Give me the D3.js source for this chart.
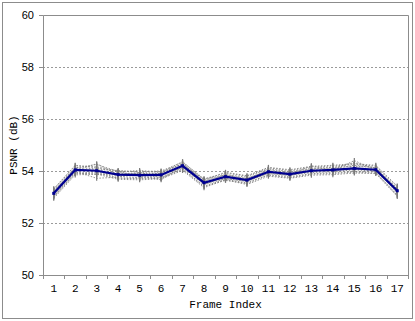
<!DOCTYPE html>
<html>
<head>
<meta charset="utf-8">
<script src="https://cdn.jsdelivr.net/npm/d3@7"></script>
<style>
  body { margin: 0; background: #fff; }
  svg { display: block; }
</style>
</head>
<body>
<div class="vizHolder"></div>
<script>
var width = 415,
    height = 321;

var margin = {top: 15, right: 7, bottom: 46, left: 43};

// frame index categories
var frames = [1,2,3,4,5,6,7,8,9,10,11,12,13,14,15,16,17];

// y tick values
var yTicks = [50, 52, 54, 56, 58, 60];

// mean PSNR (blue line)
var meanPsnr = [53.14,54.04,54.01,53.86,53.84,53.85,54.20,53.55,53.78,53.65,53.97,53.88,54.01,54.04,54.10,54.05,53.24];

// individual runs (grey dotted lines)
var run1  = [52.99,53.89,53.92,53.72,53.70,53.72,54.06,53.40,53.64,53.52,53.84,53.74,53.88,53.90,53.96,53.92,53.08];
var run2  = [53.30,54.20,54.16,54.00,53.98,54.00,54.34,53.70,53.92,53.80,54.12,54.02,54.15,54.19,54.25,54.19,53.40];
var run3  = [53.08,53.98,53.72,53.76,53.95,53.74,54.12,53.48,53.70,53.60,53.90,53.84,53.94,53.98,54.04,54.00,53.18];
var run4  = [53.22,54.12,54.25,53.98,53.80,53.92,54.28,53.62,53.86,53.70,54.05,53.94,54.08,54.12,54.32,54.10,53.30];
var run5  = [52.95,53.85,53.88,53.68,53.66,53.70,54.02,53.36,53.66,53.48,53.80,53.72,53.84,53.86,53.92,53.90,53.02];
var run6  = [53.32,54.22,54.12,53.96,54.02,53.94,54.36,53.66,53.95,53.82,54.14,54.05,54.18,54.22,54.28,54.22,53.42];
var run7  = [53.12,54.02,54.28,53.85,53.82,53.66,54.18,53.50,53.80,53.65,53.95,53.86,54.20,54.02,54.40,54.04,53.22];
var run8  = [53.04,53.94,53.86,53.90,53.88,53.88,54.22,53.58,53.74,53.72,53.98,53.92,53.96,54.10,54.06,54.08,53.14];
var run9  = [53.18,54.10,54.00,53.80,53.74,53.82,54.14,53.52,53.72,53.60,53.92,53.82,54.02,54.00,54.14,53.98,53.28];
var run10 = [53.26,54.14,54.08,54.02,53.94,53.98,54.26,53.68,53.86,53.76,54.08,53.98,54.10,54.14,54.18,54.14,53.34];
var run11 = [53.02,53.92,53.96,53.74,53.72,53.76,54.08,53.42,53.68,53.54,53.86,53.78,53.90,53.94,53.98,53.96,53.06];
var run12 = [53.20,54.06,54.04,53.92,53.90,53.90,54.30,53.60,53.84,53.68,54.02,53.90,54.06,54.08,54.22,54.12,53.30];

var runs = [run1, run2, run3, run4, run5, run6, run7, run8, run9, run10, run11, run12];

var svg = d3.select('.vizHolder')
            .append('svg')
            .attr('width', width)
            .attr('height', height);

// outer chart border
svg.append('rect')
   .attr('x', 2.5).attr('y', 2.5)
   .attr('width', width - 5).attr('height', height - 5)
   .attr('fill', 'none')
   .attr('stroke', '#8c8c8c')
   .attr('stroke-width', 1);

var plotW = width - margin.left - margin.right,
    plotH = height - margin.top - margin.bottom;

var g = svg.append('g')
           .attr('transform', 'translate(' + margin.left + ',' + margin.top + ')');

var xScale = d3.scaleBand()
               .domain(frames)
               .range([0, plotW]);

var yScale = d3.scaleLinear()
               .domain([50, 60])
               .range([plotH, 0]);

// gridlines
g.selectAll('.grid')
 .data(yTicks.filter(function(d){ return d > 50 && d < 60; }))
 .enter().append('line')
 .attr('x1', 0).attr('x2', plotW)
 .attr('y1', function(d){ return Math.round(yScale(d)) + 0.5; })
 .attr('y2', function(d){ return Math.round(yScale(d)) + 0.5; })
 .attr('stroke', '#9a9a9a')
 .attr('stroke-dasharray', '2,2');

// plot frame (top and right)
g.append('path')
 .attr('d', 'M0.5,0.5H' + (plotW + 0.5) + 'V' + (plotH + 0.5))
 .attr('fill', 'none')
 .attr('stroke', '#8c8c8c');

// x axis
var xAxis = d3.axisBottom(xScale).tickSize(0).tickPadding(9);
var xAxisGroup = g.append('g')
                  .attr('transform', 'translate(0,' + plotH + ')')
                  .call(xAxis);
xAxisGroup.select('.domain').attr('stroke', '#8c8c8c');
xAxisGroup.selectAll('text')
          .attr('font-family', '"Liberation Mono", "DejaVu Sans Mono", monospace')
          .attr('font-size', 11)
          .attr('fill', '#000');

// band boundary ticks
g.selectAll('.xtick')
 .data(frames.concat([null]))
 .enter().append('line')
 .attr('x1', function(d, i){ return Math.round(i * xScale.step()) + 0.5; })
 .attr('x2', function(d, i){ return Math.round(i * xScale.step()) + 0.5; })
 .attr('y1', plotH)
 .attr('y2', plotH + 4)
 .attr('stroke', '#8c8c8c');

// y axis
var yAxis = d3.axisLeft(yScale).tickValues(yTicks).tickSize(4).tickPadding(5);
var yAxisGroup = g.append('g').call(yAxis);
yAxisGroup.select('.domain').attr('stroke', '#8c8c8c');
yAxisGroup.selectAll('line').attr('stroke', '#8c8c8c');
yAxisGroup.selectAll('text')
          .attr('font-family', 'Arial, "Liberation Sans", sans-serif')
          .attr('font-size', 11)
          .attr('fill', '#000');

var line = d3.line()
             .x(function(d, i){ return xScale(frames[i]) + xScale.bandwidth() / 2; })
             .y(function(d){ return yScale(d); });

// grey runs
runs.forEach(function(r){
    g.append('path')
     .attr('d', line(r))
     .attr('fill', 'none')
     .attr('stroke', '#808080')
     .attr('stroke-width', 1)
     .attr('stroke-dasharray', '1.5,1.5')
     .attr('opacity', 0.85);

    g.selectAll(null)
     .data(r)
     .enter().append('line')
     .attr('x1', function(d, i){ return xScale(frames[i]) + xScale.bandwidth() / 2; })
     .attr('x2', function(d, i){ return xScale(frames[i]) + xScale.bandwidth() / 2; })
     .attr('y1', function(d){ return yScale(d) - 2.5; })
     .attr('y2', function(d){ return yScale(d) + 2.5; })
     .attr('stroke', '#7a7a7a')
     .attr('stroke-width', 1.2);
});

// mean line
g.append('path')
 .attr('d', line(meanPsnr))
 .attr('fill', 'none')
 .attr('stroke', '#000090')
 .attr('stroke-width', 2.2);

g.selectAll('.meanPt')
 .data(meanPsnr)
 .enter().append('rect')
 .attr('x', function(d, i){ return xScale(frames[i]) + xScale.bandwidth() / 2 - 1.5; })
 .attr('y', function(d){ return yScale(d) - 1.5; })
 .attr('width', 3).attr('height', 3)
 .attr('fill', '#000090');

// axis titles
svg.append('text')
   .attr('x', margin.left + plotW / 2)
   .attr('y', 308)
   .attr('text-anchor', 'middle')
   .attr('font-family', '"Liberation Mono", "DejaVu Sans Mono", monospace')
   .attr('font-size', 11)
   .text('Frame Index');

svg.append('text')
   .attr('transform', 'translate(17,' + (margin.top + plotH / 2) + ') rotate(-90)')
   .attr('text-anchor', 'middle')
   .attr('font-family', '"Liberation Mono", "DejaVu Sans Mono", monospace')
   .attr('font-size', 11)
   .text('PSNR (dB)');
</script>
</body>
</html>
